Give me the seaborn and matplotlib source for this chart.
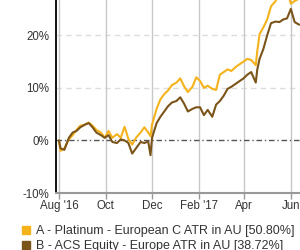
import pandas as pd
import numpy as np
import matplotlib
matplotlib.use("Agg")
import matplotlib.pyplot as plt
import matplotlib.dates as mdates
from matplotlib.lines import Line2D
import seaborn as sns

# Data (cumulative return, %)
dates = ["2016-08-01", "2016-08-03", "2016-08-08", "2016-08-14", "2016-08-19", "2016-08-24",
         "2016-08-29", "2016-09-04", "2016-09-09", "2016-09-14", "2016-09-19", "2016-09-25",
         "2016-09-30", "2016-10-05", "2016-10-10", "2016-10-16", "2016-10-21", "2016-10-26",
         "2016-10-31", "2016-11-05", "2016-11-10", "2016-11-16", "2016-11-21", "2016-11-26",
         "2016-11-29", "2016-12-01", "2016-12-07", "2016-12-12", "2016-12-17", "2016-12-22",
         "2016-12-27", "2017-01-02", "2017-01-07", "2017-01-12", "2017-01-17", "2017-01-23",
         "2017-01-28", "2017-02-02", "2017-02-07", "2017-02-12", "2017-02-18", "2017-02-23",
         "2017-02-28", "2017-03-05", "2017-03-10", "2017-03-15", "2017-03-21", "2017-03-26",
         "2017-03-31", "2017-04-05", "2017-04-10", "2017-04-16", "2017-04-18", "2017-04-21",
         "2017-04-26", "2017-05-01", "2017-05-06", "2017-05-12", "2017-05-17", "2017-05-22",
         "2017-05-27", "2017-06-01", "2017-06-06", "2017-06-12"]

fund_a = [0.0, -2.0, -1.5, 0.2, 1.0, 2.0, 2.8, 3.0, 3.4, 2.8, 2.0, 1.5,
          0.5, 1.8, 0.5, 1.2, 0.5, 2.6, 0.3, -0.8, 0.5, 1.5, 2.5, 1.5,
          0.8, 3.0, 6.0, 7.8, 8.8, 9.5, 10.5, 11.0, 11.8, 10.3, 9.2, 10.2,
          12.0, 11.3, 10.0, 10.4, 9.8, 9.6, 12.5, 13.0, 13.5, 13.2, 14.0, 14.5,
          15.0, 15.5, 15.3, 14.3, 17.0, 20.2, 21.5, 23.0, 25.5, 26.5, 28.5, 28.0,
          28.5, 26.0, 26.5, 27.0]

fund_b = [0.0, -1.5, -1.8, 0.5, 1.5, 1.8, 2.5, 3.0, 3.3, 2.5, 1.5, 1.0,
          0.5, 1.0, -0.3, -0.5, 0.2, 0.0, -0.5, -2.5, -1.5, -0.3, -0.5, -0.2,
          -2.8, 0.5, 3.3, 4.5, 5.5, 6.5, 7.2, 7.5, 8.2, 7.0, 5.5, 6.0,
          6.3, 6.3, 4.8, 5.8, 4.5, 6.8, 7.5, 8.5, 9.8, 10.2, 10.8, 11.3,
          11.8, 12.5, 13.0, 11.0, 13.5, 15.5, 17.4, 20.0, 22.3, 22.6, 22.5, 23.0,
          23.2, 25.0, 22.5, 22.0]

series_names = ["A - Platinum - European C ATR in AU [50.80%]",
                "B - ACS Equity - Europe ATR in AU [38.72%]"]
colors = ["#f5b31b", "#7b5419"]

x_tick_labels = ["Aug '16", "Oct", "Dec", "Feb '17", "Apr", "Jun"]
y_ticks = [-10, 0, 10, 20]

df = pd.DataFrame({
    "date": pd.to_datetime(dates * 2),
    "value": fund_a + fund_b,
    "fund": [series_names[0]] * len(dates) + [series_names[1]] * len(dates),
})

sns.set_style("white")
plt.rcParams["font.family"] = ["Liberation Sans", "DejaVu Sans"]

fig = plt.figure(figsize=(3, 2.5), dpi=100)
ax = fig.add_axes([56 / 300, 57 / 250, 244 / 300, 193 / 250])

sns.lineplot(data=df, x="date", y="value", hue="fund", palette=colors,
             linewidth=1.5, legend=False, ax=ax, zorder=3)

# axes limits (chart is cropped on the top and right)
start = mdates.date2num(pd.Timestamp("2016-08-01"))
ax.set_xlim(start - 3.9, start + 316)
ax.set_ylim(-10, 26.7)

# x ticks every two months
ax.xaxis.set_major_locator(mdates.MonthLocator(bymonth=[2, 4, 6, 8, 10, 12]))
tick_locs = ax.get_xticks()
ax.set_xticks(tick_locs[:len(x_tick_labels)])
ax.set_xticklabels(x_tick_labels)
ax.set_yticks(y_ticks)
ax.set_yticklabels([f"{v}%" for v in y_ticks])
ax.set_xlabel("")
ax.set_ylabel("")

ax.tick_params(axis="x", labelsize=8.3, colors="#333333", length=4, width=1,
               direction="out", pad=1, bottom=True)
ax.tick_params(axis="x", color="#999999")
ax.tick_params(axis="y", labelsize=8.3, labelcolor="#333333", length=0, pad=5)

# grid lines
ax.grid(False)
for v in y_ticks[1:]:
    if v == 0:
        ax.axhline(v, color="#555555", linewidth=1, linestyle=(0, (4, 2, 1, 2)), zorder=2)
    else:
        ax.axhline(v, color="#dddddd", linewidth=1, linestyle=(0, (4, 3)), zorder=1)
for t in ax.get_xticks():
    ax.axvline(t, color="#c8c8c8", linewidth=1, zorder=1)

for side in ["top", "right"]:
    ax.spines[side].set_visible(False)
ax.spines["left"].set_color("black")
ax.spines["left"].set_linewidth(1.3)
ax.spines["bottom"].set_color("#999999")
ax.spines["bottom"].set_linewidth(1.5)

# legend below the chart
handles = [Line2D([0], [0], marker="s", linestyle="", markersize=6,
                  markerfacecolor=c, markeredgecolor=c) for c in colors]
fig.legend(handles, series_names, loc="upper left", bbox_to_anchor=(0.07, 0.1),
           frameon=False, fontsize=9, handlelength=0.8, handletextpad=0.4,
           labelspacing=0.28, borderaxespad=0, borderpad=0, labelcolor="#333333")

fig.savefig("out.png", dpi=100)
